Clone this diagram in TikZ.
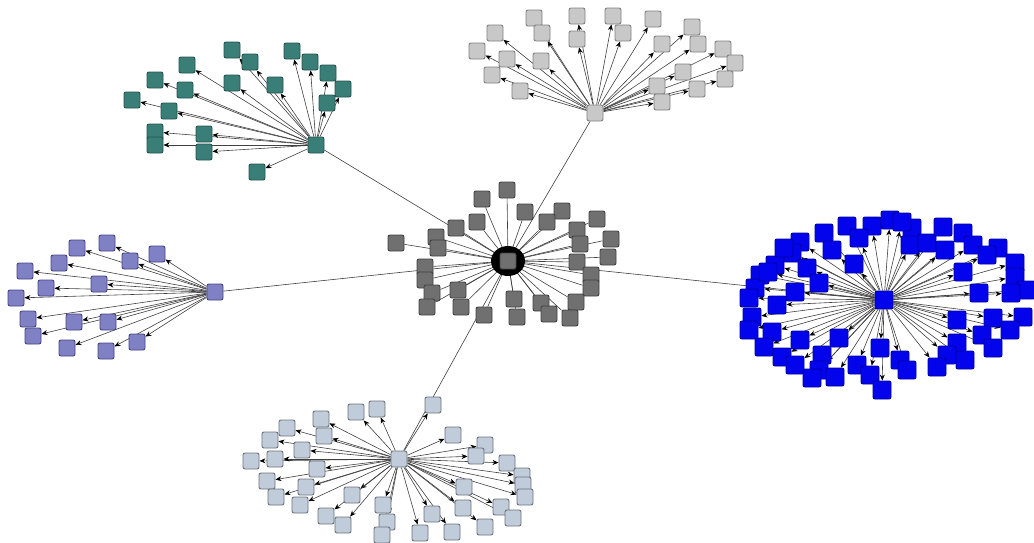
\documentclass[tikz,border=0pt]{standalone}
\usetikzlibrary{arrows.meta,shapes.geometric}
\pgfdeclarelayer{bg}
\pgfsetlayers{bg,main}
\definecolor{tealf}{RGB}{58,126,120}
\definecolor{tealb}{RGB}{36,84,80}
\definecolor{grayf}{RGB}{200,200,200}
\definecolor{grayb}{RGB}{128,128,128}
\definecolor{purf}{RGB}{128,128,196}
\definecolor{purb}{RGB}{68,68,130}
\definecolor{cenf}{RGB}{112,112,112}
\definecolor{cenb}{RGB}{66,66,66}
\definecolor{bluf}{RGB}{4,4,236}
\definecolor{blub}{RGB}{0,0,160}
\definecolor{lbf}{RGB}{192,204,218}
\definecolor{lbb}{RGB}{108,114,124}
\tikzset{
  leaf/.style={draw, rectangle, rounded corners=2pt, minimum size=16pt, inner sep=0pt, line width=0.9pt},
  tealnode/.style={leaf, fill=tealf, draw=tealb},
  graynode/.style={leaf, fill=grayf, draw=grayb},
  purnode/.style={leaf, fill=purf, draw=purb},
  cennode/.style={leaf, fill=cenf, draw=cenb},
  blunode/.style={leaf, fill=bluf, draw=blub, minimum size=18pt},
  lbnode/.style={leaf, fill=lbf, draw=lbb},
  arr/.style={draw=black!75, line width=0.6pt, -{Stealth[length=6pt,width=5pt,black]}},
  link/.style={draw=black!75, line width=0.6pt}
}
\begin{document}
\begin{tikzpicture}[x=1pt,y=-1pt]
\useasboundingbox (0,0) rectangle (1034,542);
% hubs
\node[tealnode] (th) at (316,145) {};
\node[graynode] (gh) at (595,113) {};
\node[purnode] (ph) at (215,292) {};
\node[blunode] (bh) at (884,300) {};
\node[lbnode] (lh) at (399,459) {};
\node[fill=black, ellipse, minimum width=34pt, minimum height=30pt, inner sep=0pt] (blob) at (508,261) {};
\node[cennode] (ch) at (508,261) {};
% hub links
\begin{pgfonlayer}{bg}
\foreach \h in {th,gh,ph,bh,lh} \draw[link] (ch) -- (\h);
\end{pgfonlayer}
% teal cluster
\foreach \x/\y [count=\i] in {232/50,250/62,187/65,292/51,310/62,328/73,343/89,327/103,275/85,232/83,185/90,155/80,132/100,169/111,155/132,155/145,204/134,204/152,257/172}{
  \node[tealnode] (t\i) at (\x,\y) {};
  \begin{pgfonlayer}{bg}\draw[arr] (th) -- (t\i);\end{pgfonlayer}
}
% light gray top cluster
\foreach \x/\y [count=\i] in {495/33,477/51,507/59,492/75,520/91,534/18,542/33,541/61,577/16,577/39,613/16,623/33,653/19,662/44,692/27,698/44,723/49,735/63,683/72,725/79,657/86,697/89,662/102}{
  \node[graynode] (g\i) at (\x,\y) {};
  \begin{pgfonlayer}{bg}\draw[arr] (gh) -- (g\i);\end{pgfonlayer}
}
% purple cluster
\foreach \x/\y [count=\i] in {77/248,107/243,130/261,157/254,59/263,25/271,99/284,46/288,16/298,28/319,74/322,108/322,33/336,67/348,137/342,106/351}{
  \node[purnode] (p\i) at (\x,\y) {};
  \begin{pgfonlayer}{bg}\draw[arr] (ph) -- (p\i);\end{pgfonlayer}
}
% center cluster
\foreach \x/\y [count=\i] in {507/190,482/199,525/212,562/211,477/222,456/228,547/222,597/219,577/230,436/237,396/243,438/248,580/244,611/239,608/257,577/262,425/267,425/280,591/275,591/288,432/293,458/290,427/307,461/307,514/299,541/303,576/302,484/315,517/317,549/314,570/318}{
  \node[cennode] (c\i) at (\x,\y) {};
  \begin{pgfonlayer}{bg}\draw[link] (ch) -- (c\i);\end{pgfonlayer}
}
% blue cluster
\foreach \x/\y [count=\i] in {847/226,872/226,824/233,859/238,800/242,832/250,792/253,854/264,775/265,807/268,760/275,819/283,755/288,795/292,749/298,777/305,752/317,749/330,772/332,800/340,839/338,764/347,782/357,822/355,795/365,819/370,835/377,857/365,870/375,880/348,882/390,890/220,912/228,910/245,927/243,943/227,963/233,945/250,973/245,998/248,987/255,963/272,1015/263,1015/277,979/293,1026/290,1011/293,957/320,993/318,1023/317,1010/330,982/335,993/348,957/343,947/355,965/360,937/367,900/360,907/370,902/222,784/248,768/272,812/378}{
  \node[blunode] (b\i) at (\x,\y) {};
  \begin{pgfonlayer}{bg}\draw[arr] (bh) -- (b\i);\end{pgfonlayer}
}
% light blue bottom cluster
\foreach \x/\y [count=\i] in {433/405,356/412,377/409,321/419,287/428,324/436,270/440,302/450,251/461,275/459,317/469,267/481,306/487,276/497,300/505,352/495,326/516,343/525,383/505,387/522,382/535,420/533,432/514,452/532,463/508,485/527,464/487,501/507,513/518,453/435,485/445,476/456,507/463,522/476,523/485,525/497}{
  \node[lbnode] (l\i) at (\x,\y) {};
  \begin{pgfonlayer}{bg}\draw[arr] (lh) -- (l\i);\end{pgfonlayer}
}
\end{tikzpicture}
\end{document}
